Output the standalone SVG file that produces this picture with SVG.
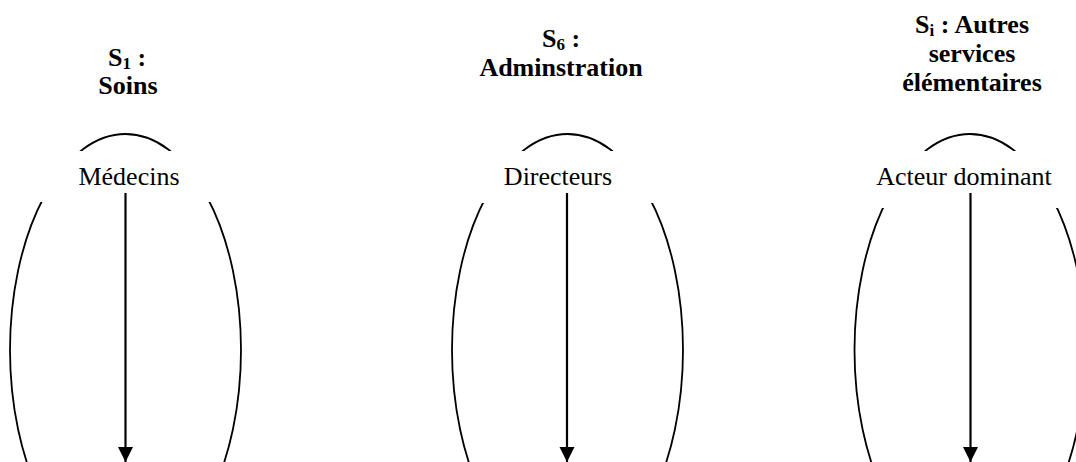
<svg xmlns="http://www.w3.org/2000/svg" width="1076" height="462" viewBox="0 0 1076 462">
<style>
.ell{fill:none;stroke:#000;stroke-width:1.8}
.bg{fill:#fff;stroke:none}
.lbl{font-family:"Liberation Serif","Times New Roman",serif;font-size:26px;fill:#000;text-anchor:middle}
.ttl{font-family:"Liberation Serif","Times New Roman",serif;font-size:26px;font-weight:bold;fill:#000;text-anchor:middle}
.sub{font-size:17px}
.arr{stroke:#000;stroke-width:2.2;fill:none;marker-end:url(#ah)}
</style>
<defs>
<marker id="ah" markerUnits="userSpaceOnUse" markerWidth="16" markerHeight="16" refX="15" refY="7.5" orient="auto">
<path d="M0,0 L15,7.5 L0,15 Z" fill="#000"/>
</marker>
</defs>
<rect width="1076" height="462" fill="#fff"/>
<g id="node-s1">
<ellipse class="ell" cx="125.5" cy="350" rx="115.5" ry="216"/>
<rect class="bg" x="15" y="151" width="220" height="51"/>
<text class="ttl" x="127" y="66">S<tspan class="sub" dy="3">1</tspan><tspan dy="-3"> :</tspan></text>
<text class="ttl" x="128" y="94">Soins</text>
<text class="lbl" x="129" y="185">Médecins</text>
</g>
<g id="node-s6">
<ellipse class="ell" cx="567.5" cy="350" rx="115.5" ry="216"/>
<rect class="bg" x="457" y="151" width="220" height="52"/>
<text class="ttl" x="561" y="47">S<tspan class="sub" dy="3">6</tspan><tspan dy="-3"> :</tspan></text>
<text class="ttl" x="561" y="76">Adminstration</text>
<text class="lbl" x="558" y="185">Directeurs</text>
</g>
<g id="node-si">
<ellipse class="ell" cx="970" cy="350" rx="115.5" ry="216"/>
<rect class="bg" x="860" y="151" width="216" height="57"/>
<text class="ttl" x="972" y="33">S<tspan class="sub" dy="3">i</tspan><tspan dy="-3"> : Autres</tspan></text>
<text class="ttl" x="972" y="62">services</text>
<text class="ttl" x="972" y="91">élémentaires</text>
<text class="lbl" x="964" y="185">Acteur dominant</text>
</g>
<g id="connectors">
<line class="arr" x1="125.5" y1="193" x2="125.5" y2="462"/>
<line class="arr" x1="567" y1="193" x2="567" y2="462"/>
<line class="arr" x1="970.5" y1="193" x2="970.5" y2="462"/>
</g>
</svg>
